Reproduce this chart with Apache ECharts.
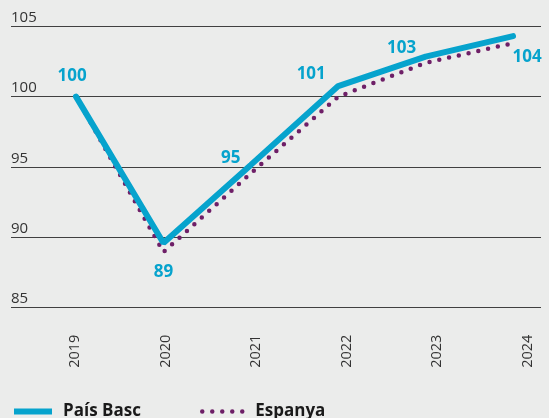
<!DOCTYPE html>
<html>
<head>
<meta charset="utf-8">
<script src="https://cdn.jsdelivr.net/npm/echarts@6/dist/echarts.min.js"></script>
<style>
html,body{margin:0;padding:0;background:#ebeceb;}
#c{width:549px;height:418px;}
</style>
</head>
<body>
<div id="c"></div>
<script>
const years = [2019, 2020, 2021, 2022, 2023, 2024];
const yearLabels = ['2019', '2020', '2021', '2022', '2023', '2024'];
const paisBasc = [100, 89.6, 95.15, 100.75, 102.85, 104.3];
const espanya = [100, 88.95, 94.55, 100.0, 102.4, 103.8];
const paisBascLabels = ['100', '89', '95', '101', '103', '104'];
const yTicks = [85, 90, 95, 100, 105];

const blue = '#06a3cd';
const purple = '#6e1f67';
const font = "'Open Sans', 'Noto Sans', sans-serif";

const labelOffsets = [[-4, -20], [0, 29], [-20, -7], [-27, -12], [-24, -8], [14, 21]];

const chart = echarts.init(document.getElementById('c'));
chart.setOption({
  backgroundColor: '#ebeceb',
  animation: false,
  grid: [
    {left: 11, right: 8, top: 26.3, bottom: 110.3},
    {left: 75, right: 21.5, top: 26.3, bottom: 110.3}
  ],
  xAxis: [
    {type: 'value', gridIndex: 0, min: 2018.256, max: 2024.32, show: false, splitLine: {show: false}},
    {type: 'category', gridIndex: 1, data: yearLabels, boundaryGap: false,
     axisLine: {show: false}, axisTick: {show: false}, splitLine: {show: false},
     axisLabel: {rotate: 90, margin: 27, fontSize: 14.5, color: '#333', fontFamily: font, interval: 0}}
  ],
  yAxis: [
    {type: 'value', gridIndex: 0, min: yTicks[0], max: yTicks[yTicks.length - 1], interval: 5,
     axisLine: {show: false}, axisTick: {show: false},
     splitLine: {show: true, lineStyle: {color: '#404040', width: 1.2}},
     axisLabel: {inside: true, margin: 0, verticalAlign: 'bottom', fontSize: 15, color: '#333', fontFamily: font, padding: [0, 0, 1, 0]}},
    {type: 'value', gridIndex: 1, min: 0, max: 1, show: false}
  ],
  legend: [
    {data: ['País Basc'], left: 11, top: 403, itemWidth: 38, itemHeight: 14, padding: 0,
     lineStyle: {width: 6, cap: 'butt'}, textStyle: {fontSize: 17, fontWeight: 'bold', color: '#1a1a1a', fontFamily: font, padding: [0, 0, 0, 6]}},
    {data: ['Espanya'], left: 200, top: 403, itemWidth: 43, itemHeight: 14, padding: 0,
     lineStyle: {width: 4.5, type: [0, 10], cap: 'round'}, textStyle: {fontSize: 17, fontWeight: 'bold', color: '#1a1a1a', fontFamily: font, padding: [0, 0, 0, 5]}}
  ],
  series: [
    {
      name: 'Espanya', type: 'line', xAxisIndex: 0, yAxisIndex: 0,
      data: years.map((y, i) => [y, espanya[i]]),
      symbol: 'circle', symbolSize: 1, itemStyle: {color: 'rgba(0,0,0,0)'},
      lineStyle: {color: purple, width: 4.5, type: [0, 10], cap: 'round'},
      z: 2
    },
    {
      name: 'País Basc', type: 'line', xAxisIndex: 0, yAxisIndex: 0,
      data: years.map((y, i) => ({
        value: [y, paisBasc[i]],
        label: {show: true, position: 'inside', offset: labelOffsets[i], formatter: paisBascLabels[i]}
      })),
      symbol: 'circle', symbolSize: 1, itemStyle: {color: 'rgba(0,0,0,0)'},
      lineStyle: {color: blue, width: 6, cap: 'round'},
      label: {color: blue, fontSize: 17, fontWeight: 'bold', fontFamily: font},
      z: 3
    }
  ]
});
</script>
</body>
</html>
